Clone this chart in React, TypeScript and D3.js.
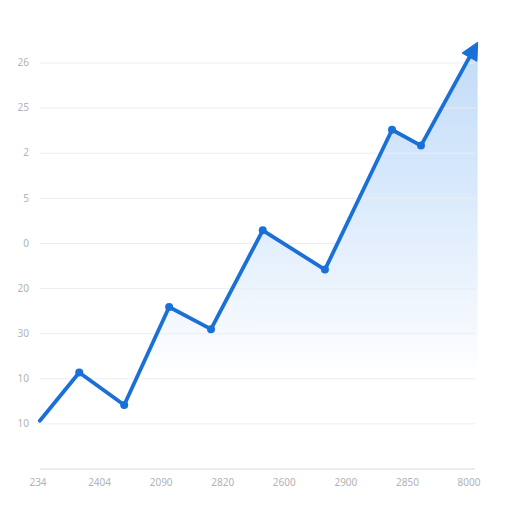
import React from 'react';
import * as d3 from 'd3';

const yTickLabels = ["10", "10", "30", "20", "0", "5", "2", "25", "26"];
const xTickLabels = ["234", "2404", "2090", "2820", "2600", "2900", "2850", "8000"];
const seriesX = [0.03, 0.67, 1.4, 2.13, 2.81, 3.65, 4.66, 5.75, 6.22, 7.14];
const seriesY = [0.07, 1.14, 0.42, 2.59, 2.1, 4.29, 3.42, 6.52, 6.17, 8.46];

const W = 512;
const H = 512;
const LINE = '#1a70d6';

export default function App() {
  const x = d3.scaleLinear().domain([0, 7]).range([38, 469]);
  const y = d3.scaleLinear().domain([-1, 8]).range([469, 63]);
  const pts: [number, number][] = seriesX.map((v, i) => [x(v), y(seriesY[i])]);

  const n = pts.length;
  const tip = pts[n - 1];
  const prev = pts[n - 2];
  const dx = tip[0] - prev[0];
  const dy = tip[1] - prev[1];
  const len = Math.hypot(dx, dy);
  const ux = dx / len;
  const uy = dy / len;
  const aL = 17;
  const aW = 8.5;
  const base: [number, number] = [tip[0] - ux * aL, tip[1] - uy * aL];
  const arrow = [
    tip,
    [base[0] - uy * aW, base[1] + ux * aW],
    [base[0] + uy * aW, base[1] - ux * aW],
  ];
  const linePts = pts.slice(0, n - 1).concat([[base[0] + ux * 2, base[1] + uy * 2]]);

  const lineGen = d3.line<[number, number]>().x(d => d[0]).y(d => d[1]);
  const areaGen = d3
    .area<[number, number]>()
    .x(d => d[0])
    .y0(y(-1))
    .y1(d => d[1]);

  const gridTicks = d3.range(0, yTickLabels.length);

  return (
    <svg width={W} height={H} style={{ position: 'absolute', left: 0, top: 0, background: '#fff' }}>
      <defs>
        <linearGradient id="fillGrad" gradientUnits="userSpaceOnUse" x1="0" x2="0" y1={y(8.5)} y2={y(-1)}>
          <stop offset="0%" stopColor="#c2dbf8" />
          <stop offset="30%" stopColor="#d5e7fb" />
          <stop offset="58%" stopColor="#ecf4fd" />
          <stop offset="78%" stopColor="#ffffff" />
          <stop offset="100%" stopColor="#ffffff" />
        </linearGradient>
      </defs>
      <path d={areaGen(pts) || ''} fill="url(#fillGrad)" />
      {gridTicks.map(t => (
        <line key={t} x1={40} x2={475} y1={y(t)} y2={y(t)} stroke="#ebeef2" strokeWidth={1} />
      ))}
      <line x1={40} x2={475} y1={y(-1)} y2={y(-1)} stroke="#d6d9dd" strokeWidth={1} />
      {yTickLabels.map((l, i) => (
        <text
          key={i}
          x={29}
          y={y(i) + 0.5}
          textAnchor="end"
          dominantBaseline="middle"
          fontFamily="'Noto Sans', sans-serif"
          fontSize={10}
          fill="#b0b3b7"
        >
          {l}
        </text>
      ))}
      {xTickLabels.map((l, i) => (
        <text
          key={i}
          x={x(i)}
          y={483}
          textAnchor="middle"
          dominantBaseline="middle"
          fontFamily="'Noto Sans', sans-serif"
          fontSize={10}
          fill="#b0b3b7"
        >
          {l}
        </text>
      ))}
      <path
        d={lineGen(linePts) || ''}
        fill="none"
        stroke={LINE}
        strokeWidth={3.8}
        strokeLinejoin="round"
        strokeLinecap="round"
      />
      <path d={`M${arrow.map(p => p.join(',')).join('L')}Z`} fill={LINE} stroke={LINE} strokeWidth={1} strokeLinejoin="round" />
      {pts.slice(1, n - 1).map((p, i) => (
        <circle key={i} cx={p[0]} cy={p[1]} r={4} fill={LINE} />
      ))}
    </svg>
  );
}
